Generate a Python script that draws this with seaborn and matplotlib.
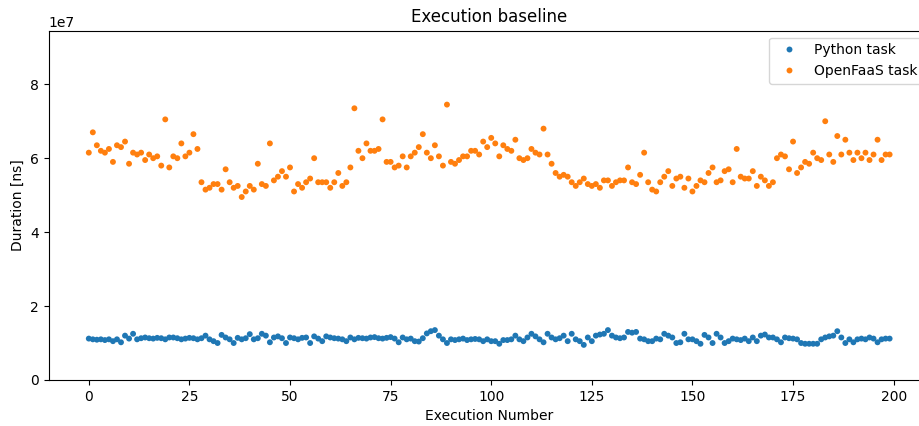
import numpy as np
import pandas as pd
import matplotlib
matplotlib.use('Agg')
import matplotlib.pyplot as plt
import seaborn as sns

# durations, in millions of ns
python_ms = [
    11.2, 11.0, 10.9, 11.0, 10.8, 11.0, 10.5, 11.0, 10.2, 12.0,
    11.2, 12.5, 11.0, 11.3, 11.5, 11.3, 11.2, 11.4, 11.3, 11.0,
    11.5, 11.5, 11.3, 11.0, 11.2, 11.4, 11.3, 11.0, 11.3, 12.0,
    11.0, 10.5, 10.0, 12.2, 11.5, 11.0, 10.0, 11.4, 11.0, 11.3,
    12.4, 11.0, 11.3, 12.5, 12.0, 10.2, 11.5, 11.8, 11.3, 10.0,
    11.5, 11.3, 11.0, 11.4, 11.5, 10.0, 11.8, 11.2, 10.5, 11.8,
    11.5, 11.3, 11.2, 11.0, 10.5, 11.5, 11.0, 11.4, 11.3, 11.2,
    11.5, 11.6, 11.3, 11.2, 11.4, 11.6, 11.2, 10.2, 11.5, 11.0,
    11.2, 10.5, 10.4, 11.3, 12.6, 13.2, 13.5, 12.0, 11.0, 10.0,
    11.0, 10.8, 11.0, 11.2, 10.8, 11.0, 11.1, 11.0, 10.5, 11.0,
    10.5, 10.5, 9.8, 10.8, 10.8, 11.0, 12.0, 11.0, 10.5, 11.5,
    12.5, 11.8, 11.0, 10.2, 12.5, 11.5, 11.0, 11.3, 12.0, 10.5,
    12.5, 11.0, 10.5, 9.5, 11.5, 10.5, 12.0, 12.3, 12.5, 13.5,
    12.0, 11.5, 11.3, 11.5, 13.0, 12.8, 13.0, 11.2, 11.0, 10.5,
    10.5, 11.2, 11.0, 12.5, 12.0, 11.5, 10.0, 10.2, 12.5, 11.0,
    11.0, 10.5, 9.8, 12.2, 11.5, 10.0, 12.5, 11.5, 10.0, 10.5,
    11.2, 11.0, 10.8, 11.2, 10.5, 11.5, 10.5, 12.0, 12.3, 11.5,
    11.5, 11.0, 10.2, 11.5, 11.3, 11.2, 11.0, 10.0, 9.8, 9.8,
    9.8, 9.8, 11.0, 11.5, 11.8, 12.0, 13.2, 11.5, 10.0, 11.0,
    10.2, 11.0, 11.2, 11.0, 11.5, 11.2, 10.2, 11.0, 11.2, 11.2,
]

openfaas_ms = [
    61.5, 67.0, 63.5, 62.0, 61.5, 62.5, 59.0, 63.5, 63.0, 64.5,
    58.5, 61.5, 61.0, 61.5, 59.5, 61.0, 60.0, 60.5, 58.0, 70.5,
    57.5, 60.5, 60.0, 64.0, 60.5, 61.5, 66.5, 62.5, 53.5, 51.5,
    52.0, 53.0, 53.0, 51.5, 57.0, 53.5, 52.0, 52.5, 49.5, 51.0,
    52.5, 51.5, 58.5, 53.0, 52.5, 64.0, 54.0, 55.0, 56.5, 55.0,
    57.5, 51.0, 53.0, 52.0, 53.5, 54.5, 60.0, 53.5, 53.5, 53.5,
    52.0, 53.5, 56.0, 52.5, 53.5, 57.5, 73.5, 62.0, 60.0, 64.0,
    62.0, 62.0, 62.5, 70.5, 59.0, 59.0, 57.5, 58.0, 60.5, 57.5,
    60.5, 61.5, 63.0, 66.5, 61.5, 60.0, 63.5, 60.5, 58.0, 74.5,
    59.0, 58.5, 59.5, 60.5, 60.5, 62.0, 62.0, 61.0, 64.5, 63.0,
    65.5, 64.0, 60.5, 63.5, 62.5, 62.0, 65.0, 60.0, 59.5, 60.0,
    62.5, 61.5, 61.0, 68.0, 61.0, 58.5, 56.0, 55.0, 55.5, 55.0,
    53.5, 52.5, 53.5, 54.5, 53.0, 52.5, 53.0, 52.0, 54.0, 54.0,
    52.5, 53.5, 54.0, 54.0, 57.5, 53.5, 53.0, 55.5, 61.5, 53.5,
    51.5, 51.0, 53.5, 55.0, 56.5, 52.5, 54.5, 55.0, 52.0, 54.5,
    51.0, 52.5, 54.0, 53.5, 56.0, 57.5, 53.5, 54.0, 56.5, 57.0,
    53.5, 62.5, 55.0, 54.5, 54.5, 56.5, 52.5, 55.0, 54.0, 52.5,
    53.5, 60.0, 61.0, 60.5, 57.0, 64.5, 56.0, 57.5, 59.0, 58.5,
    61.5, 60.0, 59.5, 70.0, 61.0, 59.0, 66.0, 61.0, 65.0, 61.5,
    59.5, 61.5, 60.0, 61.5, 59.5, 61.0, 65.0, 59.5, 61.0, 61.0,
]

runs = np.arange(len(python_ms))
df = pd.DataFrame({
    'Execution Number': np.concatenate([runs, runs]),
    'Duration': np.array(python_ms + openfaas_ms) * 1e6,
    'Task': ['Python task'] * len(python_ms) + ['OpenFaaS task'] * len(openfaas_ms),
})

fig, ax = plt.subplots(figsize=(9.2, 4.26), dpi=100)
sns.scatterplot(data=df, x='Execution Number', y='Duration', hue='Task',
                palette=['#1f77b4', '#ff7f0e'], s=18, linewidth=0, ax=ax)

ax.set_ylim(0, 9.45e7)
ax.set_xlabel('Execution Number')
ax.set_ylabel('Duration [ns]')
ax.set_title('Execution baseline')
ax.legend(loc='upper right')

# the original axes runs slightly past the right edge of the image
fig.subplots_adjust(left=0.053, right=1.0105, top=0.928, bottom=0.108)
fig.savefig('out.png', dpi=100)
